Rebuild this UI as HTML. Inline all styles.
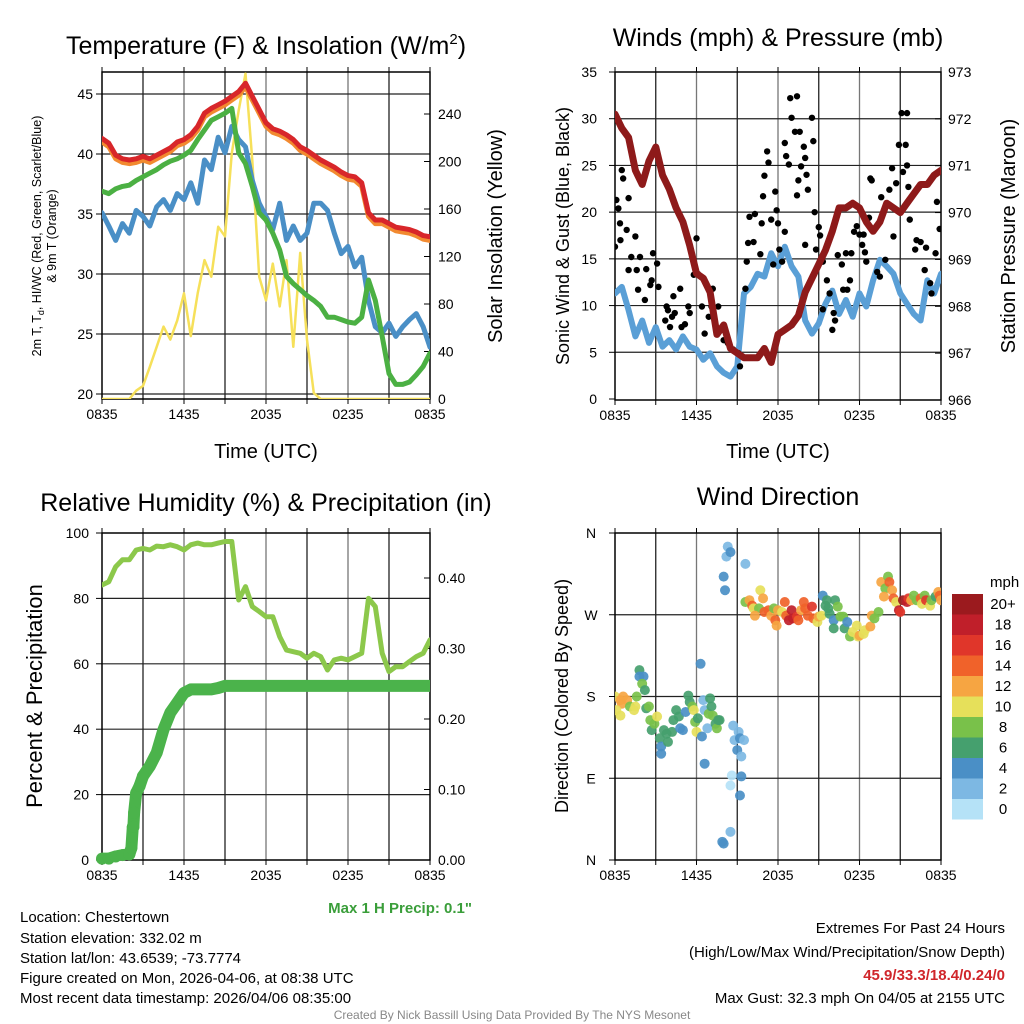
<!DOCTYPE html>
<html><head><meta charset="utf-8">
<style>
html,body{margin:0;padding:0;background:#fff;}
svg{display:block;font-family:"Liberation Sans",Arial,sans-serif;}
</style></head>
<body>
<svg id="fig" width="1024" height="1024" viewBox="0 0 1024 1024" xmlns="http://www.w3.org/2000/svg">
<defs>
<clipPath id="c1"><rect x="102" y="72" width="328" height="327"/></clipPath>
<clipPath id="c2"><rect x="615" y="72" width="326" height="328"/></clipPath>
<clipPath id="c3"><rect x="102" y="533" width="328" height="327"/></clipPath>
<clipPath id="c4"><rect x="615" y="533" width="326" height="327"/></clipPath>
</defs>

<!-- titles -->
<text x="266" y="54" font-size="25" text-anchor="middle">Temperature (F) &amp; Insolation (W/m<tspan font-size="15" dy="-10">2</tspan><tspan dy="10">)</tspan></text>
<text x="778" y="46" font-size="25" text-anchor="middle">Winds (mph) &amp; Pressure (mb)</text>
<text x="266" y="511" font-size="25" text-anchor="middle">Relative Humidity (%) &amp; Precipitation (in)</text>
<text x="778" y="505" font-size="25" text-anchor="middle">Wind Direction</text>

<!-- axis titles -->
<text transform="translate(41,236) rotate(-90)" font-size="12.5" text-anchor="middle">2m T, T<tspan font-size="9" dy="3">d</tspan><tspan dy="-3">, HI/WC (Red, Green, Scarlet/Blue)</tspan></text>
<text transform="translate(56,236) rotate(-90)" font-size="12.5" text-anchor="middle">&amp; 9m T (Orange)</text>
<text transform="translate(502,236) rotate(-90)" font-size="20" text-anchor="middle">Solar Insolation (Yellow)</text>
<text x="266" y="458" font-size="20" text-anchor="middle">Time (UTC)</text>
<text transform="translate(569,236) rotate(-90)" font-size="18" text-anchor="middle">Sonic Wind &amp; Gust (Blue, Black)</text>
<text transform="translate(1015,236) rotate(-90)" font-size="20" text-anchor="middle">Station Pressure (Maroon)</text>
<text x="778" y="458" font-size="20" text-anchor="middle">Time (UTC)</text>
<text transform="translate(42,696) rotate(-90)" font-size="22" text-anchor="middle">Percent &amp; Precipitation</text>
<text transform="translate(568,696) rotate(-90)" font-size="18" text-anchor="middle">Direction (Colored By Speed)</text>
<text x="472" y="913" font-size="15" font-weight="bold" fill="#3a9e3a" text-anchor="end">Max 1 H Precip: 0.1"</text>

<g id="plots"></g>

<!-- colorbar -->
<g id="cbar"></g>
<text x="990" y="587" font-size="15">mph</text>

<!-- station info -->
<g font-size="15">
<text x="20" y="922">Location: Chestertown</text>
<text x="20" y="943">Station elevation: 332.02 m</text>
<text x="20" y="963">Station lat/lon: 43.6539; -73.7774</text>
<text x="20" y="983">Figure created on Mon, 2026-04-06, at 08:38 UTC</text>
<text x="20" y="1003">Most recent data timestamp: 2026/04/06 08:35:00</text>
</g>
<g font-size="15" text-anchor="end">
<text x="1005" y="933">Extremes For Past 24 Hours</text>
<text x="1005" y="957">(High/Low/Max Wind/Precipitation/Snow Depth)</text>
<text x="1005" y="980" fill="#d0262b" font-weight="bold">45.9/33.3/18.4/0.24/0</text>
<text x="1005" y="1003">Max Gust: 32.3 mph On 04/05 at 2155 UTC</text>
</g>
<text x="512" y="1019" font-size="12" fill="#888" text-anchor="middle">Created By Nick Bassill Using Data Provided By The NYS Mesonet</text>
</svg>

<script>
// ---- data (hours since 0835 UTC, half-hour steps) ----
const timeLabels = ["0835","1435","2035","0235","0835"];
const tempRed = [41.3,40.9,39.9,39.6,39.5,39.6,39.8,39.6,39.9,40.2,40.5,41.0,41.2,41.6,42.3,43.4,43.8,44.1,44.4,44.8,45.2,45.9,44.8,43.7,42.6,42.1,41.9,41.6,41.2,40.6,40.3,39.9,39.5,39.2,38.9,38.5,38.2,38.1,37.6,35.1,34.5,34.5,34.2,33.9,33.8,33.7,33.5,33.2,33.1];
const tempGreen = [36.9,36.7,37.1,37.3,37.4,37.8,38.1,38.4,38.7,39.1,39.4,39.6,39.9,40.3,41.2,42.0,42.8,43.1,43.4,43.8,40.1,39.2,37.3,35.1,34.5,33.4,32.0,29.8,29.2,28.7,28.2,27.8,27.3,26.4,26.4,26.2,26.0,25.9,26.4,29.5,27.8,24.8,21.7,20.8,20.8,21.0,21.6,22.3,23.4];
const tempBlue = [35.1,34.0,32.8,34.2,33.4,35.3,34.8,34.0,35.6,36.2,35.3,36.7,36.2,37.6,35.9,39.5,38.7,41.4,40.1,42.3,41.2,40.6,37.8,35.9,34.8,33.7,35.9,32.8,34.0,32.8,33.4,35.9,35.9,35.3,33.4,31.7,32.3,30.6,31.4,27.8,25.6,25.1,25.9,24.8,25.6,26.2,26.7,25.6,23.9];
const insolation = [0,0,0,0,0,7,11,27,44,61,50,66,89,53,89,117,103,145,137,207,243,274,201,103,83,114,78,117,44,123,50,5,0,0,0,0,0,0,0,0,0,0,0,0,0,0,0,0,0];
const windSpeed = [11.3,12.0,9.5,6.7,8.4,6.0,7.7,5.6,6.3,5.3,6.7,5.6,5.3,4.2,4.9,3.5,2.8,2.4,3.5,11.3,12.0,13.4,13.1,15.6,14.2,16.3,14.2,13.1,8.4,7.0,8.1,10.2,11.6,9.1,10.6,8.8,11.3,9.9,12.7,14.9,14.2,13.4,11.3,10.2,9.1,8.4,12.7,11.3,13.4];
const pressure = [972.1,971.8,971.6,970.9,970.6,971.1,971.4,970.8,970.5,970.1,969.8,969.3,968.7,968.6,968.3,967.4,967.6,967.1,967.0,966.9,966.9,966.9,967.1,966.8,967.4,967.5,967.6,967.8,968.3,968.6,968.9,969.2,969.6,970.1,970.1,970.2,970.1,969.8,969.6,969.8,970.2,970.1,970.0,970.2,970.4,970.6,970.6,970.8,970.9];
const gustHours = [0,0.1,0.25,0.37,0.4,0.5,0.6,1,0.86,1,1.2,1.5,1.6,1.7,1.84,2.2,2.3,2.6,2.7,2.8,3.1,3.2,3.7,3.8,3.9,4.2,4.05,4.3,4.4,4.8,4.9,5.15,5.4,5.5,5.8,6.0,6.1,6.4,6.6,6.9,7.1,7.2,7.6,8,8.3,8.7,9.1,9.2,9.6,9.7,9.8,9.9,10.3,10.2,10.7,10.8,10.9,11.0,11.2,11.3,11.5,11.65,11.8,11.9,12.0,12.1,12.3,12.5,12.5,12.6,12.8,12.9,13.0,13.25,13.4,13.6,13.7,13.9,14.0,13.5,13.4,14.1,14.2,14.5,14.6,14.7,15.0,15.1,14.8,14.0,15.3,15.6,15.8,16.1,16.2,15.3,16.0,16.4,16.7,16.8,17.0,17.1,17.3,17.4,17.6,17.8,18.0,18.3,18.2,18.4,18.5,18.7,18.8,18.9,19.3,19.5,19.6,19.9,20.2,20.4,20.5,20.7,20.9,21.1,21.5,21.4,21.2,21.6,21.5,21.7,22.1,22.2,22.5,22.8,22.9,23.2,23.6,23.7,23.9,23.3];
const gustSpeeds = [16.3,21.3,20.4,18.8,17.0,24.5,23.6,21.5,18.1,13.8,15.2,17.4,13.8,11.7,15.2,10.6,13.9,12.2,12.7,15.6,14.5,12.0,8.4,9.9,9.5,8.8,7.7,11.0,9.2,11.8,7.7,8.0,9.9,9.2,13.3,17.2,13.4,9.9,7.0,8.8,9.9,11.8,9.9,6.3,6.0,5.3,4.9,3.5,11.8,14.7,16.7,19.5,19.8,16.8,15.5,18.8,21.7,23.9,26.5,25.3,19.2,14.4,22.2,20.2,18.8,16.0,14.7,17.9,27.4,26.0,25.1,32.2,30.1,28.6,32.4,28.6,24.9,27.0,25.8,23.4,21.8,24.0,22.4,30.1,27.6,20.0,18.4,17.5,16.0,16.5,14.7,12.7,11.3,9.2,8.4,9.6,7.4,15.4,14.4,11.7,15.6,11.7,12.7,15.6,17.9,18.5,17.6,17.6,16.5,15.7,14.7,19.4,23.6,23.4,13.6,13.1,21.6,14.9,22.4,24.7,17.4,23.1,27.2,30.6,30.6,27.2,24.3,22.7,25.0,19.2,16.0,17.0,16.8,13.8,16.2,12.4,15.6,21.1,18.2,11.3];
const humidity = [84.1,85.1,89.7,91.8,91.8,94.8,95.3,94.8,96.0,95.8,96.4,95.8,94.8,96.4,96.9,96.4,96.4,96.9,97.4,97.4,79.5,83.6,77.5,76.0,74.4,74.4,68.3,64.2,63.7,63.2,61.7,63.2,62.2,58.1,61.2,61.7,61.2,62.2,63.2,80.0,77.5,63.2,57.6,59.1,59.1,60.7,62.2,63.2,67.3];
const precipHours = [0,0.5,1,1.5,2,2.15,2.25,2.3,2.35,2.5,2.75,3,3.5,4,4.5,5,5.5,6,6.5,7,8,8.5,9,24];
const precipTotals = [0.002,0.002,0.005,0.007,0.008,0.017,0.047,0.047,0.067,0.095,0.105,0.119,0.133,0.152,0.185,0.209,0.223,0.237,0.242,0.242,0.242,0.244,0.247,0.247];
const dirHours = [0,0.4,0.6,0.9,0.5,0.1,0.4,1.1,1.4,1.5,1.6,1.8,1.8,2.1,2.0,2.2,2.3,2.5,2.6,2.7,2.9,3.1,3.3,3.4,3.4,3.6,3.8,3.9,4.2,4.3,4.5,4.7,4.8,5.0,5.2,5.4,5.5,5.7,5.8,5.9,6.0,6.1,6.3,6.4,6.5,6.6,6.6,6.8,6.9,7.0,7.1,7.2,7.4,7.5,7.6,7.7,8.0,8.1,8.2,8.3,8.5,8.7,8.8,9.0,9.1,9.2,9.3,9.5,8.6,8.5,9.3,9.2,8.5,7.9,8.0,9.6,
9.6,9.9,10.1,10.2,10.7,10.9,10.6,10.3,11.0,11.3,11.5,11.7,11.8,11.9,12.0,12.3,12.5,12.6,12.8,13.0,13.1,13.4,13.5,13.7,13.9,14.0,14.2,14.5,14.6,14.9,15.0,15.2,15.3,15.6,15.5,15.7,15.8,16.1,16.1,16.2,16.4,16.6,16.8,16.9,17.1,17.3,17.5,17.8,17.9,18.0,18.3,18.4,18.8,18.9,19.1,19.4,19.6,19.9,20.1,20.2,20.4,19.8,20.5,20.7,20.9,21.0,21.2,21.5,21.6,21.8,22.0,22.2,22.5,22.6,22.8,22.9,23.2,23.3,23.6,23.8,23.9,24.0];
const dirDegrees = [180,176,180,176,172,165,159,169,165,169,180,209,202,202,194,187,167,169,154,143,150,158,134,125,117,143,139,130,141,154,165,158,145,143,163,181,174,169,165,152,141,156,216,136,176,165,106,145,161,178,169,159,150,145,154,154,312,297,334,345,339,148,132,121,141,134,114,132,93,82,92,71,31,20,18,326,
284,286,280,277,297,288,277,269,273,275,269,277,264,258,275,273,284,269,264,275,266,268,264,275,284,277,269,279,266,262,268,269,291,286,280,277,271,264,255,286,279,268,268,255,262,246,251,258,246,247,249,253,257,269,266,273,306,299,312,306,297,290,288,284,275,273,286,284,288,286,291,286,288,282,291,286,280,286,290,295,291,286];
const dirSpeeds = [10,12,12,12,12,10,10,8,10,10,8,6,4,4,8,6,6,8,8,6,8,10,6,4,4,6,6,6,6,6,6,6,4,4,4,6,6,8,10,8,10,6,4,4,2,2,4,2,8,6,6,8,6,8,6,6,4,4,2,2,4,2,2,4,2,4,2,2,0,0,4,4,2,4,4,2,
8,12,14,10,10,12,8,12,14,14,12,8,14,12,12,10,14,14,18,18,18,16,14,12,14,14,14,16,14,10,12,10,4,6,6,6,6,4,6,6,8,8,8,6,4,8,10,10,10,12,10,10,12,12,8,8,12,8,8,14,12,12,14,10,18,16,20,18,16,12,8,8,14,10,8,16,10,8,6,12,14,12];
const speedColors = ["#b5e2f7","#7db8e3","#4a8fc6","#45a06e","#79c14a","#e6e05a","#f6a542","#f0622a","#e0362a","#c01f2a","#9b1a1e"];
const speedLabels = ["0","2","4","6","8","10","12","14","16","18","20+"];

// ---- helpers ----
const NS="http://www.w3.org/2000/svg";
const root=document.getElementById('plots');
function mk(tag,attrs,parent){const e=document.createElementNS(NS,tag);for(const k in attrs)e.setAttribute(k,attrs[k]);(parent||root).appendChild(e);return e;}
function linScale(d0,d1,r0,r1){return v=>r0+(v-d0)/(d1-d0)*(r1-r0);}
function halfHours(n){const a=[];for(let i=0;i<n;i++)a.push(i*0.5);return a;}
function poly(xs,ys,fx,fy,attrs,clip,name){
  const pts=xs.map((h,i)=>fx(h).toFixed(1)+","+fy(ys[i]).toFixed(1)).join(" ");
  const p=mk('polyline',Object.assign({points:pts,fill:'none','stroke-linejoin':'round','stroke-linecap':'round','clip-path':clip},attrs));
  
  
  return p;
}
function frame(x0,x1,y0,y1,name,hgrid,fy){
  const g=mk('g',{});
  
  
  const fx=linScale(0,24,x0,x1);
  for(let h=3;h<24;h+=3){mk('line',{x1:fx(h),x2:fx(h),y1:y0,y2:y1,stroke:(h%6===0)?'#777':'#222','stroke-width':1.3},g);}
  hgrid.forEach(v=>{const y=fy(v);if(y>y0+1&&y<y1-1)mk('line',{x1:x0,x2:x1,y1:y,y2:y,stroke:'#222','stroke-width':1.2},g);});
  for(let h=0;h<=24;h+=3){mk('line',{x1:fx(h),x2:fx(h),y1:y0-5,y2:y0,stroke:'#000','stroke-width':1},g);mk('line',{x1:fx(h),x2:fx(h),y1:y1,y2:y1+5,stroke:'#000','stroke-width':1},g);}
  mk('rect',{x:x0,y:y0,width:x1-x0,height:y1-y0,fill:'none',stroke:'#000','stroke-width':1.5},g);
  timeLabels.forEach((t,i)=>{const tx=mk('text',{x:fx(i*6),y:y1+20,'font-size':14,'text-anchor':'middle'},g);tx.textContent=t;
    
    });
  return {g,fx};
}
function ticks(vals,fy,x,anchor,g,fmt,tickX,dir){
  vals.forEach(v=>{const y=fy(v);const t=mk('text',{x:x,y:y+5,'font-size':14,'text-anchor':anchor},g);t.textContent=fmt(v);
    
    
    mk('line',{x1:tickX,x2:tickX+dir*6,y1:y,y2:y,stroke:'#000','stroke-width':1},g);});
}
const hh=halfHours(49);

// ---- panel 1 ----
{
 const fy=linScale(20,45,394,94), fyr=linScale(0,240,399,114);
 const {g,fx}=frame(102,430,72,399,'temperature-panel',[20,25,30,35,40,45],fy);
 ticks([20,25,30,35,40,45],fy,93,'end',g,v=>v,102,-1);
 ticks([0,40,80,120,160,200,240],fyr,438,'start',g,v=>v,430,-1);
 poly(hh,insolation,fx,fyr,{stroke:'#f6e05a','stroke-width':2.5},'url(#c1)','insolation-line');
 poly(hh,tempBlue,fx,fy,{stroke:'#4a8fc6','stroke-width':5},'url(#c1)','dewpoint-line');
 poly(hh,tempGreen,fx,fy,{stroke:'#4bb043','stroke-width':5},'url(#c1)','heat-index-line');
 poly(hh,tempRed.map(v=>v-0.3),fx,fy,{stroke:'#f28a30','stroke-width':5},'url(#c1)','temp-9m-line');
 poly(hh,tempRed,fx,fy,{stroke:'#d8262a','stroke-width':5},'url(#c1)','temp-2m-line');
}
// ---- panel 2 ----
{
 const fy=linScale(0,35,399,72), fyr=linScale(966,973,400,72);
 const {g,fx}=frame(615,941,72,400,'wind-panel',[0,5,10,15,20,25,30,35],fy);
 ticks([0,5,10,15,20,25,30,35],fy,597,'end',g,v=>v,615,-1);
 ticks([966,967,968,969,970,971,972,973],fyr,948,'start',g,v=>v,941,-1);
 poly(hh,windSpeed,fx,fy,{stroke:'#5a9fd6','stroke-width':6},'url(#c2)','sonic-wind-line');
 gustHours.forEach((h,i)=>{const c=mk('circle',{cx:fx(h),cy:fy(gustSpeeds[i]),r:3.2,fill:'#000','clip-path':'url(#c2)'});
   
   });
 poly(hh,pressure,fx,fyr,{stroke:'#8e1a1a','stroke-width':7},'url(#c2)','pressure-line');
}
// ---- panel 3 ----
{
 const fy=linScale(0,100,860,533), fyr=linScale(0,0.4,860,578);
 const {g,fx}=frame(102,430,533,860,'humidity-panel',[0,20,40,60,80,100],fy);
 ticks([0,20,40,60,80,100],fy,89,'end',g,v=>v,102,-1);
 ticks([0,0.1,0.2,0.3,0.4],fyr,438,'start',g,v=>v.toFixed(2),430,-1);
 poly(hh,humidity,fx,fy,{stroke:'#8cc84b','stroke-width':5},'url(#c3)','humidity-line');
 poly(precipHours,precipTotals,fx,fyr,{stroke:'#4bb34b','stroke-width':12},'url(#c3)','precip-line');
 precipHours.slice(0,12).forEach((h,i)=>{const c=mk('circle',{cx:fx(h),cy:fyr(precipTotals[i]),r:6,fill:'#4bb34b'});
   
   });
}
// ---- panel 4 ----
{
 const fy=linScale(0,360,860,533);
 const {g,fx}=frame(615,941,533,860,'direction-panel',[90,180,270],fy);
 const dl=["N","E","S","W","N"];
 [0,90,180,270,360].forEach((d,i)=>{const t=mk('text',{x:591,y:fy(d)+5,'font-size':14,'text-anchor':'middle'},g);t.textContent=dl[i];
   
   
   mk('line',{x1:615,x2:609,y1:fy(d),y2:fy(d),stroke:'#000'},g);});
 dirHours.forEach((h,i)=>{const idx=Math.min(10,Math.floor(dirSpeeds[i]/2));
   const c=mk('circle',{cx:fx(h),cy:fy(dirDegrees[i]),r:5,fill:speedColors[idx],'fill-opacity':0.92,'clip-path':'url(#c4)'});
   
   });
}
// ---- colorbar ----
{
 const cb=document.getElementById('cbar');
 const top=594,h=20.5;
 speedColors.slice().reverse().forEach((col,i)=>{
   const r=mk('rect',{x:952,y:top+i*h,width:31,height:h,fill:col},cb);
   
   
   const t=mk('text',{x:1003,y:top+i*h+15,'font-size':15,'text-anchor':'middle'},cb);
   t.textContent=speedLabels[10-i];
   
   
 });
}
</script>
</body></html>
